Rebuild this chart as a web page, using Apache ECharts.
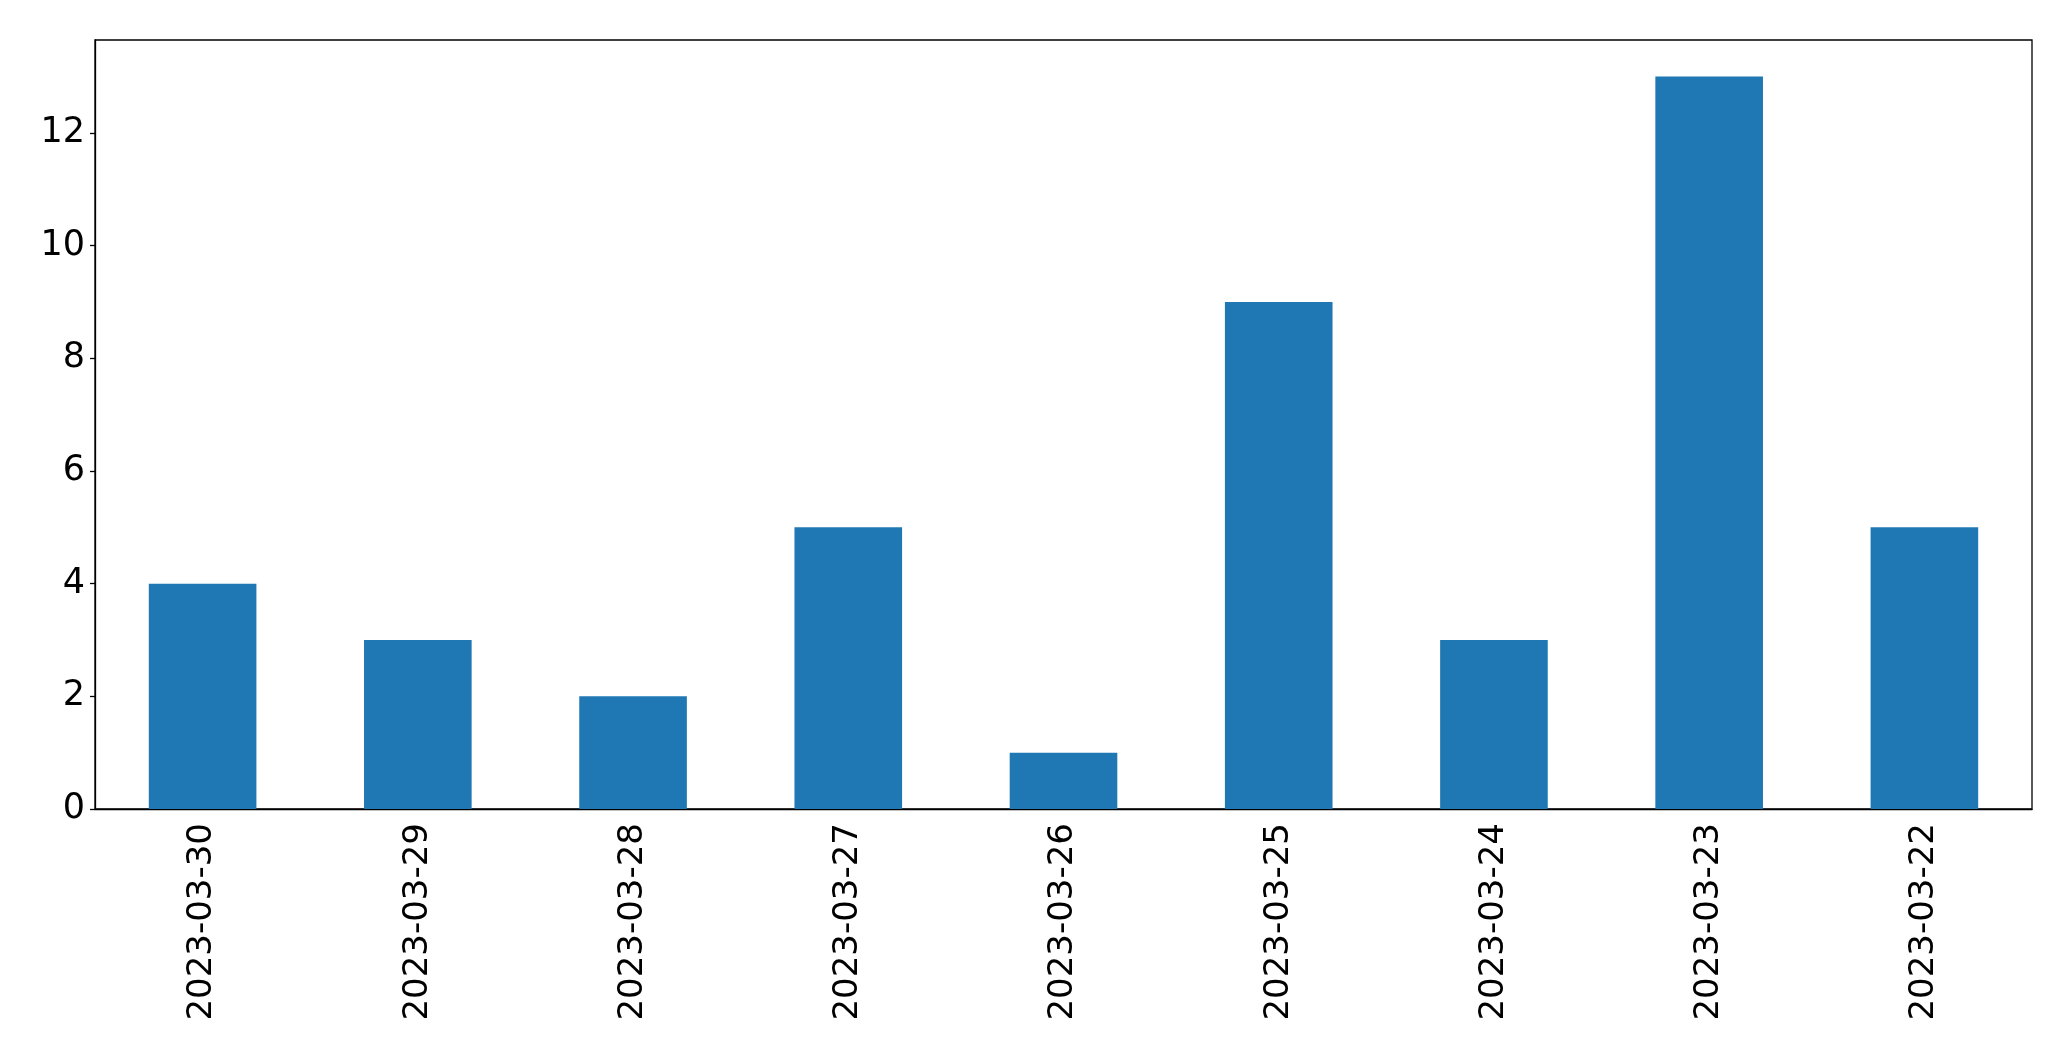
<!DOCTYPE html>
<html>
<head>
<meta charset="utf-8">
<script src="https://cdn.jsdelivr.net/npm/echarts@6/dist/echarts.min.js"></script>
<style>html,body{margin:0;padding:0;background:#fff}#c{width:2071px;height:1061px}</style>
</head>
<body>
<div id="c"></div>
<script>
const categories = ['2023-03-30','2023-03-29','2023-03-28','2023-03-27','2023-03-26','2023-03-25','2023-03-24','2023-03-23','2023-03-22'];
const values = [4, 3, 2, 5, 1, 9, 3, 13, 5];
const yTicks = [0, 2, 4, 6, 8, 10, 12];

const chart = echarts.init(document.getElementById('c'), null, {renderer: 'canvas'});
chart.setOption({
  animation: false,
  backgroundColor: '#fff',
  grid: {left: 95, top: 40, width: 1937, height: 769, show: true, borderColor: '#000', borderWidth: 1.3, backgroundColor: 'transparent'},
  xAxis: {
    type: 'category',
    data: categories,
    boundaryGap: true,
    axisLine: {lineStyle: {color: '#000', width: 1.3}},
    axisTick: {alignWithLabel: true, length: 5, lineStyle: {color: '#000', width: 1.3}},
    axisLabel: {rotate: 90, margin: 14, color: '#000', fontSize: 34, fontFamily: 'DejaVu Sans'}
  },
  yAxis: {
    type: 'value',
    min: 0,
    max: 13.65,
    interval: 2,
    splitLine: {show: false},
    axisLine: {show: true, lineStyle: {color: '#000', width: 1.3}},
    axisTick: {show: true, length: 5, lineStyle: {color: '#000', width: 1.3}, customValues: yTicks},
    axisLabel: {margin: 10, color: '#000', fontSize: 35, fontFamily: 'DejaVu Sans', customValues: yTicks}
  },
  series: [{
    type: 'bar',
    data: values,
    barWidth: '50%',
    itemStyle: {color: '#1f77b4'}
  }]
});
</script>
</body>
</html>
